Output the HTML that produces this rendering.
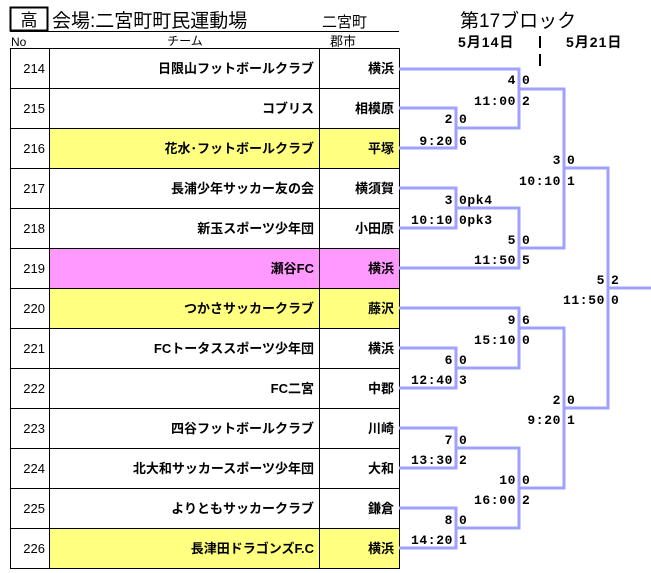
<!DOCTYPE html>
<html><head><meta charset="utf-8"><style>
html,body{margin:0;padding:0;background:#fff;}
svg{display:block;font-family:"Liberation Sans","Noto Sans CJK JP",sans-serif;}
.t{font-size:13px;font-weight:bold;text-anchor:end;}
.n{font-size:13px;text-anchor:end;}
.s{font-size:13px;font-weight:bold;font-family:"Liberation Mono","Noto Sans CJK JP",monospace;letter-spacing:0.6px;}
.e{text-anchor:end;}
</style></head><body>
<svg width="651" height="573" viewBox="0 0 651 573" xmlns="http://www.w3.org/2000/svg">
<rect x="10.5" y="7.5" width="37" height="23" fill="none" stroke="#000" stroke-width="2"/>
<text x="29" y="26" font-size="17" text-anchor="middle">高</text>
<text x="52" y="27" font-size="19">会場:二宮町町民運動場</text>
<text x="322" y="27" font-size="15">二宮町</text>
<line x1="10" y1="31.5" x2="399" y2="31.5" stroke="#000"/>
<text x="11" y="46" font-size="12">No</text>
<text x="185" y="45" font-size="12" text-anchor="middle">チーム</text>
<text x="343" y="46" font-size="13" text-anchor="middle">郡市</text>
<text x="460" y="27" font-size="19">第17ブロック</text>
<text x="458" y="47" font-size="14" font-weight="bold" letter-spacing="1">5月14日</text>
<text x="566" y="47" font-size="14" font-weight="bold" letter-spacing="1">5月21日</text>
<line x1="540" y1="36" x2="540" y2="48" stroke="#000" stroke-width="2"/>
<line x1="540" y1="54" x2="540" y2="66" stroke="#000" stroke-width="2"/>
<rect x="49" y="128" width="350" height="40" fill="#ffff80"/>
<rect x="49" y="248" width="350" height="40" fill="#ff99ff"/>
<rect x="49" y="288" width="350" height="40" fill="#ffff80"/>
<rect x="49" y="528" width="350" height="40" fill="#ffff80"/>
<g stroke="#000" stroke-width="1">
<rect x="10.5" y="48.5" width="389" height="520" fill="none"/>
<line x1="49.5" y1="48" x2="49.5" y2="569"/>
<line x1="319.5" y1="48" x2="319.5" y2="569"/>
<line x1="10" y1="88.5" x2="399" y2="88.5"/><line x1="10" y1="128.5" x2="399" y2="128.5"/>
<line x1="10" y1="168.5" x2="399" y2="168.5"/><line x1="10" y1="208.5" x2="399" y2="208.5"/>
<line x1="10" y1="248.5" x2="399" y2="248.5"/><line x1="10" y1="288.5" x2="399" y2="288.5"/>
<line x1="10" y1="328.5" x2="399" y2="328.5"/><line x1="10" y1="368.5" x2="399" y2="368.5"/>
<line x1="10" y1="408.5" x2="399" y2="408.5"/><line x1="10" y1="448.5" x2="399" y2="448.5"/>
<line x1="10" y1="488.5" x2="399" y2="488.5"/><line x1="10" y1="528.5" x2="399" y2="528.5"/>
</g>
<g>
<text class="n" x="45" y="73">214</text><text class="t" x="314" y="73">日限山フットボールクラブ</text><text class="t" x="394" y="73">横浜</text>
<text class="n" x="45" y="113">215</text><text class="t" x="314" y="113">コブリス</text><text class="t" x="394" y="113">相模原</text>
<text class="n" x="45" y="153">216</text><text class="t" x="314" y="153">花水･フットボールクラブ</text><text class="t" x="394" y="153">平塚</text>
<text class="n" x="45" y="193">217</text><text class="t" x="314" y="193">長浦少年サッカー友の会</text><text class="t" x="394" y="193">横須賀</text>
<text class="n" x="45" y="233">218</text><text class="t" x="314" y="233">新玉スポーツ少年団</text><text class="t" x="394" y="233">小田原</text>
<text class="n" x="45" y="273">219</text><text class="t" x="314" y="273">瀬谷FC</text><text class="t" x="394" y="273">横浜</text>
<text class="n" x="45" y="313">220</text><text class="t" x="314" y="313">つかさサッカークラブ</text><text class="t" x="394" y="313">藤沢</text>
<text class="n" x="45" y="353">221</text><text class="t" x="314" y="353">FCトータススポーツ少年団</text><text class="t" x="394" y="353">横浜</text>
<text class="n" x="45" y="393">222</text><text class="t" x="314" y="393">FC二宮</text><text class="t" x="394" y="393">中郡</text>
<text class="n" x="45" y="433">223</text><text class="t" x="314" y="433">四谷フットボールクラブ</text><text class="t" x="394" y="433">川崎</text>
<text class="n" x="45" y="473">224</text><text class="t" x="314" y="473">北大和サッカースポーツ少年団</text><text class="t" x="394" y="473">大和</text>
<text class="n" x="45" y="513">225</text><text class="t" x="314" y="513">よりともサッカークラブ</text><text class="t" x="394" y="513">鎌倉</text>
<text class="n" x="45" y="553">226</text><text class="t" x="314" y="553">長津田ドラゴンズF.C</text><text class="t" x="394" y="553">横浜</text>
</g>
<g fill="none" stroke="#a0a0ff" stroke-width="3">
<polyline points="399,108 456,108 456,148 399,148"/>
<polyline points="399,69 519,69 519,128 456,128"/>
<polyline points="399,188 456,188 456,228 399,228"/>
<polyline points="456,208 519,208 519,268 399,268"/>
<polyline points="519,89 564,89 564,248 519,248"/>
<polyline points="399,348 456,348 456,388 399,388"/>
<polyline points="399,308 519,308 519,368 456,368"/>
<polyline points="399,428 456,428 456,468 399,468"/>
<polyline points="399,508 456,508 456,548 399,548"/>
<polyline points="456,448 519,448 519,528 456,528"/>
<polyline points="519,328 564,328 564,488 519,488"/>
<polyline points="564,168 608,168 608,408 564,408"/>
<line x1="608" y1="288" x2="651" y2="288"/>
</g>
<g class="s">
<text class="e" x="453" y="123">2</text><text x="459" y="123">0</text>
<text class="e" x="453" y="145">9:20</text><text x="459" y="145">6</text>
<text class="e" x="516" y="84">4</text><text x="522" y="84">0</text>
<text class="e" x="516" y="105">11:00</text><text x="522" y="105">2</text>
<text class="e" x="453" y="204">3</text><text x="459" y="204">0pk4</text>
<text class="e" x="453" y="224">10:10</text><text x="459" y="224">0pk3</text>
<text class="e" x="516" y="244">5</text><text x="522" y="244">0</text>
<text class="e" x="516" y="264">11:50</text><text x="522" y="264">5</text>
<text class="e" x="561" y="164">3</text><text x="567" y="164">0</text>
<text class="e" x="561" y="185">10:10</text><text x="567" y="185">1</text>
<text class="e" x="605" y="284">5</text><text x="611" y="284">2</text>
<text class="e" x="605" y="304">11:50</text><text x="611" y="304">0</text>
<text class="e" x="516" y="324">9</text><text x="522" y="324">6</text>
<text class="e" x="516" y="344">15:10</text><text x="522" y="344">0</text>
<text class="e" x="453" y="364">6</text><text x="459" y="364">0</text>
<text class="e" x="453" y="384">12:40</text><text x="459" y="384">3</text>
<text class="e" x="561" y="404">2</text><text x="567" y="404">0</text>
<text class="e" x="561" y="424">9:20</text><text x="567" y="424">1</text>
<text class="e" x="453" y="444">7</text><text x="459" y="444">0</text>
<text class="e" x="453" y="464">13:30</text><text x="459" y="464">2</text>
<text class="e" x="516" y="484">10</text><text x="522" y="484">0</text>
<text class="e" x="516" y="504">16:00</text><text x="522" y="504">2</text>
<text class="e" x="453" y="524">8</text><text x="459" y="524">0</text>
<text class="e" x="453" y="544">14:20</text><text x="459" y="544">1</text>
</g>
</svg>
</body></html>
